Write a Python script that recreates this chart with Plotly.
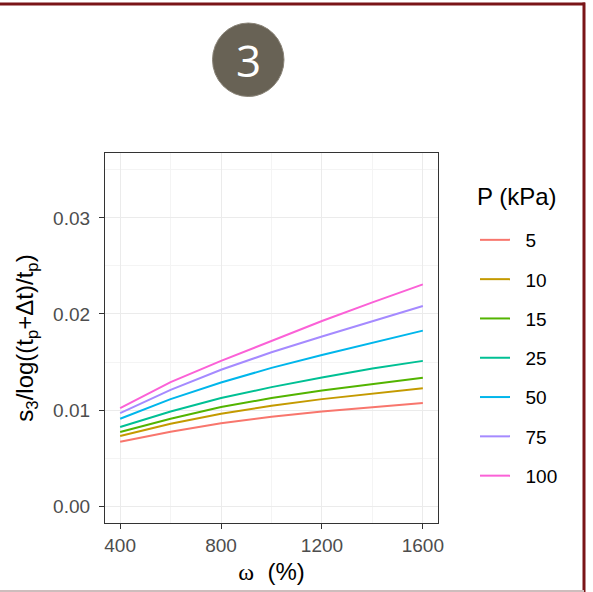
import plotly.graph_objects as go

# Water content (%) at which each consolidation curve is evaluated
omega = [400, 600, 800, 1000, 1200, 1400, 1600]

# Secondary-compression ratio s3/log((tp+Δt)/tp) for each applied pressure
pressure_labels = ["5", "10", "15", "25", "50", "75", "100"]
s_p5 = [0.00671, 0.00775, 0.00862, 0.00931, 0.00986, 0.01031, 0.01073]
s_p10 = [0.00730, 0.00858, 0.00962, 0.01045, 0.01114, 0.01173, 0.01228]
s_p15 = [0.00772, 0.00910, 0.01031, 0.01125, 0.01204, 0.01270, 0.01336]
s_p25 = [0.00824, 0.00986, 0.01125, 0.01239, 0.01339, 0.01433, 0.01512]
s_p50 = [0.00910, 0.01114, 0.01287, 0.01439, 0.01574, 0.01702, 0.01827]
s_p75 = [0.00969, 0.01211, 0.01419, 0.01602, 0.01765, 0.01927, 0.02083]
s_p100 = [0.01021, 0.01291, 0.01512, 0.01720, 0.01927, 0.02121, 0.02308]
series = [s_p5, s_p10, s_p15, s_p25, s_p50, s_p75, s_p100]

colors = ["#F8766D", "#C49A00", "#53B400", "#00C094", "#00B6EB", "#A58AFF", "#FB61D7"]

W, H = 593, 592
L, R, T, B = 105, 438, 153, 523  # plot-area edges in pixels


def px_x(p):
    return (p - L) / (R - L)


def px_y(p):
    return (B - p) / (B - T)


fig = go.Figure()
for lab, ys, col in zip(pressure_labels, series, colors):
    fig.add_trace(go.Scatter(
        x=omega, y=ys, mode="lines",
        name="\u00a0\u00a0" + lab,  # non-breaking spaces widen the key-to-label gap
        legendgroup=lab,
        line=dict(color=col, width=2),
    ))

font_main = "Arial, Liberation Sans, sans-serif"
grid_major = "#EBEBEB"
grid_minor = "#F4F4F4"

fig.update_layout(
    width=W, height=H,
    margin=dict(l=L, r=W - R, t=T, b=H - B),
    paper_bgcolor="white", plot_bgcolor="white",
    font=dict(family=font_main, color="black"),
    showlegend=True,
    legend=dict(
        font=dict(size=19, color="black"),
        x=px_x(475), xanchor="left", y=px_y(221), yanchor="top",
        tracegroupgap=11.6, itemwidth=30, bgcolor="rgba(0,0,0,0)",
    ),
    xaxis=dict(
        range=[340, 1660], tickvals=[400, 800, 1200, 1600],
        showgrid=True, gridcolor=grid_major, gridwidth=1.2,
        minor=dict(tickvals=[600, 1000, 1400], showgrid=True,
                   gridcolor=grid_minor, gridwidth=0.8, ticklen=0),
        showline=True, mirror=True, linecolor="#333333", linewidth=1.2,
        ticks="outside", ticklen=5, tickwidth=1.2, tickcolor="#333333",
        tickfont=dict(size=19, color="#4D4D4D"),
        zeroline=False,
        title=dict(text='<span style="font-family:Liberation Serif">ω</span>  (%)',
                   font=dict(size=24, color="black"), standoff=8),
    ),
    yaxis=dict(
        range=[-0.00175, 0.03675], tickvals=[0, 0.01, 0.02, 0.03],
        ticktext=["0.00", "0.01", "0.02", "0.03"],
        showgrid=True, gridcolor=grid_major, gridwidth=1.2,
        minor=dict(tickvals=[0.005, 0.015, 0.025, 0.035], showgrid=True,
                   gridcolor=grid_minor, gridwidth=0.8, ticklen=0),
        showline=True, mirror=True, linecolor="#333333", linewidth=1.2,
        ticks="outside", ticklen=5, tickwidth=1.2, tickcolor="#333333",
        tickfont=dict(size=19, color="#4D4D4D"), ticklabelstandoff=5,
        zeroline=False,
        title=dict(text="s<sub>3</sub>/log((t<sub>p</sub>+Δt)/t<sub>p</sub>)",
                   font=dict(size=24, color="black"), standoff=12),
    ),
)

# Legend heading
fig.add_annotation(text="P (kPa)", xref="paper", yref="paper",
                   x=px_x(475), y=px_y(196), xanchor="left", yanchor="middle",
                   showarrow=False, font=dict(size=24, color="black"))

# Numbered badge above the panel
fig.add_shape(type="circle", xref="paper", yref="paper",
              x0=px_x(212.5), x1=px_x(284), y0=px_y(96.5), y1=px_y(23),
              fillcolor="#686255", line=dict(color="#8A8478", width=1), layer="above")
fig.add_annotation(text="3", xref="paper", yref="paper",
                   x=px_x(248.3), y=px_y(60), xanchor="center", yanchor="middle",
                   showarrow=False, font=dict(family="Open Sans, Noto Sans, sans-serif",
                                              size=44, color="white"))

# Panel frame: dark red top and right edges, faint bottom edge
frame = "#7A1518"
fig.add_shape(type="line", xref="paper", yref="paper",
              x0=px_x(0), x1=px_x(585), y0=px_y(4), y1=px_y(4),
              line=dict(color=frame, width=3), layer="above")
fig.add_shape(type="line", xref="paper", yref="paper",
              x0=px_x(584), x1=px_x(584), y0=px_y(2.5), y1=px_y(592),
              line=dict(color=frame, width=3), layer="above")
fig.add_shape(type="line", xref="paper", yref="paper",
              x0=px_x(0), x1=px_x(584), y0=px_y(591), y1=px_y(591),
              line=dict(color="#CDBDBD", width=2), layer="above")

fig.write_html("out.html")
